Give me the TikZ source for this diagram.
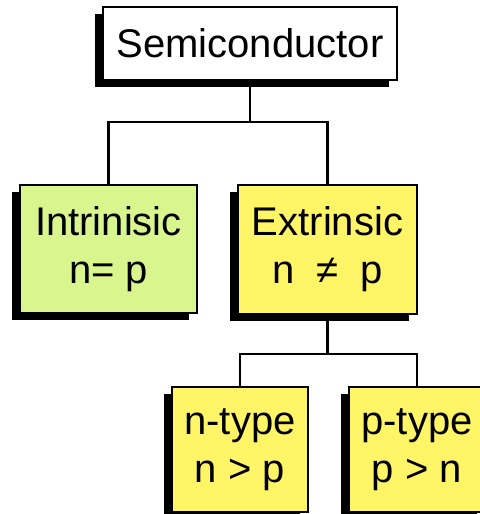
\documentclass[tikz,border=0pt]{standalone}
\usepackage{fontspec}
\setmainfont{Liberation Sans}
\usepackage{tikz}
\usetikzlibrary{positioning, shadows}
\definecolor{intrgreen}{RGB}{216, 245, 142}
\definecolor{extryellow}{RGB}{255, 245, 102}

\tikzset{
  classbox/.style={draw=black, line width=1.2pt, align=center,
    inner sep=0pt, font=\fontsize{20}{24}\selectfont,
    drop shadow={shadow xshift=-4pt, shadow yshift=-3.5pt, fill=black, opacity=1}},
  link/.style={line width=1.4pt}
}

\begin{document}
\begin{tikzpicture}[x=0.5pt, y=-0.5pt]
      \useasboundingbox (0,0) rectangle (480,514);
      \node[classbox, fill=white, minimum width=147pt, minimum height=36.5pt] (semi) at (250,43.5) {Semiconductor};
      \node[classbox, fill=intrgreen, minimum width=88.5pt, minimum height=64pt] (intr) at (108.5,249) {Intrinisic\\n= p};
      \node[classbox, fill=extryellow, minimum width=89.5pt, minimum height=64.5pt] (extr) at (327.5,249.5) {Extrinsic\\n \ ≠ \ p};
      \node[classbox, fill=extryellow, minimum width=68pt, minimum height=62.5pt] (ntype) at (240,449.5) {n-type\\n > p};
      \node[classbox, fill=extryellow, minimum width=68pt, minimum height=62.5pt] (ptype) at (417,449.5) {p-type\\p > n};
      % branch points
      \coordinate (split1) at (250,122);
      \coordinate (split2) at (327.5,354);
      \draw[link] (semi) -- (split1);
      \draw[link] (intr.north) |- (split1) -| (extr.north);
      \draw[link] (extr) -- (split2);
      \draw[link] (ntype.north) |- (split2) -| (ptype.north);
\end{tikzpicture}
\end{document}
